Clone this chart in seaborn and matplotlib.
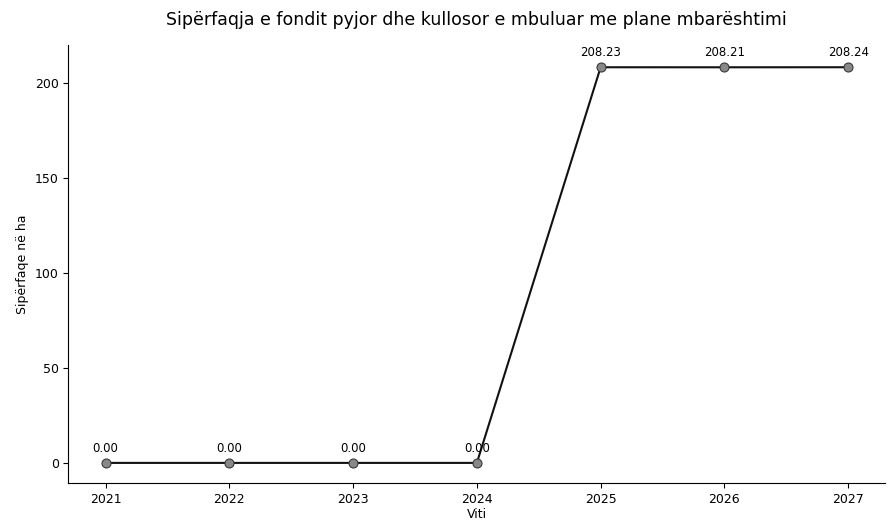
import pandas as pd
import numpy as np
import matplotlib
matplotlib.use('Agg')
import matplotlib.pyplot as plt
import seaborn as sns

# Data
years = [2021, 2022, 2023, 2024, 2025, 2026, 2027]
area_ha = [0.0, 0.0, 0.0, 0.0, 208.23, 208.21, 208.24]

df = pd.DataFrame({'Viti': years, 'Siperfaqe': area_ha})

sns.set_style('ticks')
plt.rcParams['font.family'] = ['DejaVu Sans']
plt.rcParams['text.color'] = 'black'
plt.rcParams['axes.labelcolor'] = 'black'
plt.rcParams['xtick.color'] = 'black'
plt.rcParams['ytick.color'] = 'black'
plt.rcParams['axes.edgecolor'] = 'black'

fig, ax = plt.subplots(figsize=(8.88, 5.22), dpi=100)
sns.lineplot(data=df, x='Viti', y='Siperfaqe', ax=ax, color='#111111', linewidth=1.5,
             marker='o', markersize=6.5, markerfacecolor='#888888', markeredgecolor='#333333')

# Value labels above each point
for x, y in zip(df['Viti'], df['Siperfaqe']):
    ax.annotate(f'{y:.2f}', (x, y), textcoords='offset points', xytext=(0, 8),
                ha='center', fontsize=8.5)

ax.set_title('Sipërfaqja e fondit pyjor dhe kullosor e mbuluar me plane mbarështimi',
             fontsize=12.5, pad=14)
ax.set_xlabel('Viti', fontsize=9, labelpad=2)
ax.set_ylabel('Sipërfaqe në ha', fontsize=9)
ax.set_xticks(years)
ax.tick_params(labelsize=9)
ax.set_ylim(-10.5, 220)
sns.despine()

plt.subplots_adjust(left=0.077, right=0.997, top=0.914, bottom=0.075)
plt.savefig('out.png')
plt.close()
